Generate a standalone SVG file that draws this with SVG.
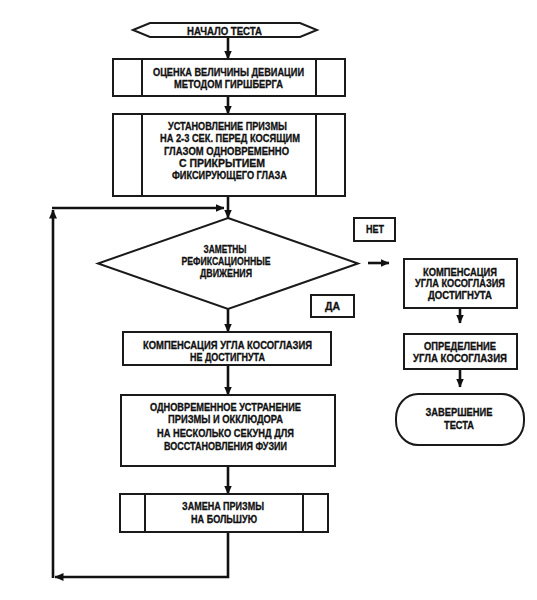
<svg xmlns="http://www.w3.org/2000/svg" width="537" height="600" viewBox="0 0 537 600">
<style>
.shape{fill:#fff;stroke:#1a1a1a;stroke-width:2}
.inner{stroke:#1a1a1a;stroke-width:2;fill:none}
.conn{fill:none;stroke:#111;stroke-width:2.6}
text{font-family:"Liberation Sans",Arial,sans-serif;font-weight:bold;font-size:10px;fill:#111;stroke:#111;stroke-width:0.3;text-anchor:middle}
</style>
<defs>
<marker id="ah" markerUnits="userSpaceOnUse" markerWidth="9" markerHeight="8" refX="8.5" refY="4" orient="auto">
<path d="M0,0 L9,4 L0,8 Z" fill="#111"/>
</marker>
</defs>
<rect width="537" height="600" fill="#fff"/>

<g id="connectors">
<path class="conn" d="M228,37 V59" marker-end="url(#ah)"/>
<path class="conn" d="M228,96 V114" marker-end="url(#ah)"/>
<path class="conn" d="M228,196 V218" marker-end="url(#ah)"/>
<path class="conn" d="M228,309 V332" marker-end="url(#ah)"/>
<path class="conn" d="M228,365 V395" marker-end="url(#ah)"/>
<path class="conn" d="M228,466 V494" marker-end="url(#ah)"/>
<path class="conn" d="M228,532 V577 H55" marker-end="url(#ah)"/>
<path class="conn" d="M53,578 V210" marker-end="url(#ah)"/>
<path class="conn" d="M52,208 H224" marker-end="url(#ah)"/>
<path class="conn" d="M368,263 H389" marker-end="url(#ah)"/>
<path class="conn" d="M460,308 V323" marker-end="url(#ah)"/>
<path class="conn" d="M460,369 V387" marker-end="url(#ah)"/>
</g>

<g id="start">
<polygon class="shape" points="133,30 150,23 300,23 317,30 300,37 150,37"/>
<text x="224.5" y="34.6" textLength="75" lengthAdjust="spacingAndGlyphs">НАЧАЛО ТЕСТА</text>
</g>

<g id="estimate">
<rect class="shape" x="113" y="59" width="232" height="37"/>
<line class="inner" x1="142" y1="59" x2="142" y2="96"/>
<line class="inner" x1="316" y1="59" x2="316" y2="96"/>
<text x="228.5" y="75.6" textLength="151" lengthAdjust="spacingAndGlyphs">ОЦЕНКА ВЕЛИЧИНЫ ДЕВИАЦИИ</text>
<text x="228.5" y="87.6" textLength="109" lengthAdjust="spacingAndGlyphs">МЕТОДОМ ГИРШБЕРГА</text>
</g>

<g id="prism">
<rect class="shape" x="113" y="114" width="232" height="82"/>
<line class="inner" x1="142" y1="114" x2="142" y2="196"/>
<line class="inner" x1="316" y1="114" x2="316" y2="196"/>
<text x="227.5" y="129.6" textLength="119" lengthAdjust="spacingAndGlyphs">УСТАНОВЛЕНИЕ ПРИЗМЫ</text>
<text x="230" y="141.6" textLength="140" lengthAdjust="spacingAndGlyphs">НА  2-3 СЕК. ПЕРЕД КОСЯЩИМ</text>
<text x="226.5" y="154.6" textLength="125" lengthAdjust="spacingAndGlyphs">ГЛАЗОМ ОДНОВРЕМЕННО</text>
<text x="222" y="166.6" textLength="86" lengthAdjust="spacingAndGlyphs">С ПРИКРЫТИЕМ</text>
<text x="229.5" y="178.6" textLength="115" lengthAdjust="spacingAndGlyphs">ФИКСИРУЮЩЕГО ГЛАЗА</text>
</g>

<g id="decision">
<polygon class="shape" points="228,218 358,263.5 228,309 98,263.5"/>
<text x="225" y="252.6" textLength="43" lengthAdjust="spacingAndGlyphs">ЗАМЕТНЫ</text>
<text x="226" y="265.1" textLength="89" lengthAdjust="spacingAndGlyphs">РЕФИКСАЦИОННЫЕ</text>
<text x="226" y="277.1" textLength="52" lengthAdjust="spacingAndGlyphs">ДВИЖЕНИЯ</text>
</g>

<g id="label-no">
<rect class="shape" x="354" y="218" width="41" height="23"/>
<text x="375" y="233.1" textLength="18" lengthAdjust="spacingAndGlyphs">НЕТ</text>
</g>

<g id="label-yes">
<rect class="shape" x="311" y="295" width="43" height="22"/>
<text x="332.5" y="309.6" textLength="15" lengthAdjust="spacingAndGlyphs">ДА</text>
</g>

<g id="not-reached">
<rect class="shape" x="123" y="332" width="208" height="33"/>
<text x="227.5" y="348.6" textLength="169" lengthAdjust="spacingAndGlyphs">КОМПЕНСАЦИЯ УГЛА КОСОГЛАЗИЯ</text>
<text x="227.5" y="360.6" textLength="75" lengthAdjust="spacingAndGlyphs">НЕ  ДОСТИГНУТА</text>
</g>

<g id="remove">
<rect class="shape" x="121" y="395" width="214" height="71"/>
<text x="225.5" y="410.6" textLength="151" lengthAdjust="spacingAndGlyphs">ОДНОВРЕМЕННОЕ УСТРАНЕНИЕ</text>
<text x="225.5" y="422.6" textLength="115" lengthAdjust="spacingAndGlyphs">ПРИЗМЫ И ОККЛЮДОРА</text>
<text x="225.5" y="436.6" textLength="137" lengthAdjust="spacingAndGlyphs">НА НЕСКОЛЬКО СЕКУНД ДЛЯ</text>
<text x="225.5" y="449.6" textLength="123" lengthAdjust="spacingAndGlyphs">ВОССТАНОВЛЕНИЯ ФУЗИИ</text>
</g>

<g id="replace">
<rect class="shape" x="120" y="494" width="208" height="38"/>
<line class="inner" x1="145" y1="494" x2="145" y2="532"/>
<line class="inner" x1="303" y1="494" x2="303" y2="532"/>
<text x="223" y="509.6" textLength="82" lengthAdjust="spacingAndGlyphs">ЗАМЕНА ПРИЗМЫ</text>
<text x="224" y="522.6" textLength="66" lengthAdjust="spacingAndGlyphs">НА БОЛЬШУЮ</text>
</g>

<g id="reached">
<rect class="shape" x="404" y="259" width="113" height="49"/>
<text x="460" y="275.6" textLength="74" lengthAdjust="spacingAndGlyphs">КОМПЕНСАЦИЯ</text>
<text x="460" y="287.1" textLength="90" lengthAdjust="spacingAndGlyphs">УГЛА КОСОГЛАЗИЯ</text>
<text x="460" y="298.6" textLength="64" lengthAdjust="spacingAndGlyphs">ДОСТИГНУТА</text>
</g>

<g id="determine">
<rect class="shape" x="404" y="334" width="113" height="35"/>
<text x="460" y="349.6" textLength="72" lengthAdjust="spacingAndGlyphs">ОПРЕДЕЛЕНИЕ</text>
<text x="460" y="362.1" textLength="94" lengthAdjust="spacingAndGlyphs">УГЛА КОСОГЛАЗИЯ</text>
</g>

<g id="end">
<rect class="shape" x="396" y="394" width="128" height="51" rx="22" ry="24"/>
<text x="459" y="415.6" textLength="67" lengthAdjust="spacingAndGlyphs">ЗАВЕРШЕНИЕ</text>
<text x="459" y="428.6" textLength="30" lengthAdjust="spacingAndGlyphs">ТЕСТА</text>
</g>
</svg>
